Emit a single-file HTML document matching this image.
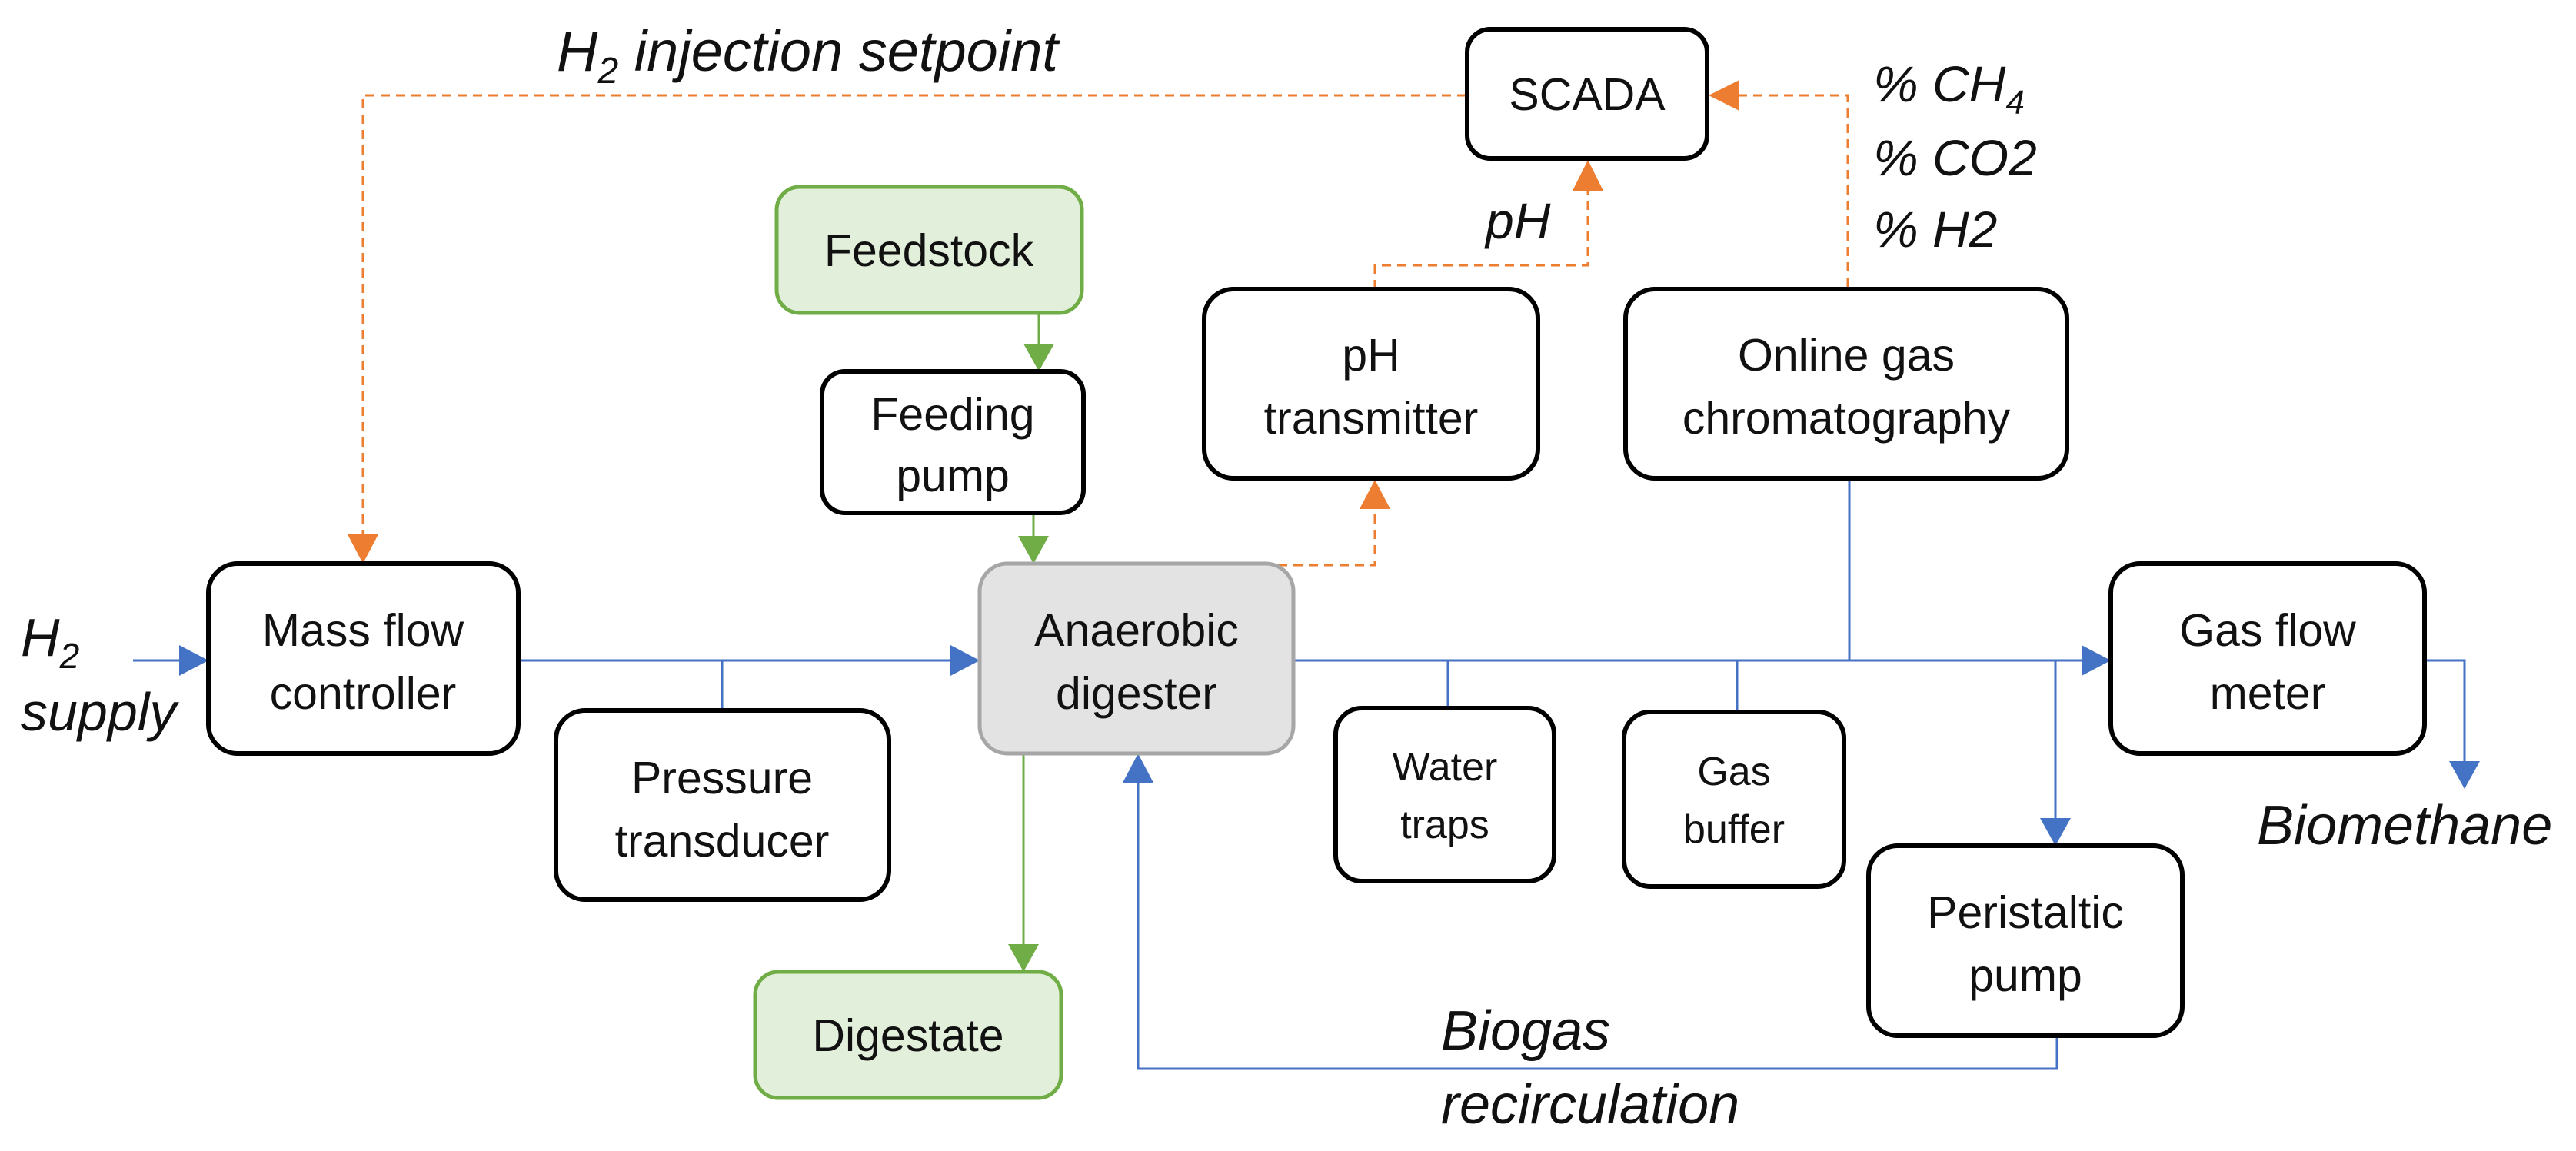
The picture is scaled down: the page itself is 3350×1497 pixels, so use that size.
<!DOCTYPE html>
<html><head><meta charset="utf-8"><style>
html,body{margin:0;padding:0;background:#fff}
svg{display:block}
text{font-family:"Liberation Sans",sans-serif;fill:#111}
.b{font-size:59px;text-anchor:middle}
.i{font-style:italic;font-size:72px}
</style></head><body>
<svg width="3350" height="1497" viewBox="0 0 3350 1497" xmlns="http://www.w3.org/2000/svg">
<style>
.bl{stroke:#4472c4;stroke-width:3;fill:none}
.gr{stroke:#70ad47;stroke-width:3;fill:none}
.or{stroke:#ed7d31;stroke-width:3;fill:none;stroke-dasharray:12,8}
.bx{fill:#fff;stroke:#000;stroke-width:6}
</style>
<g>
<path class="or" d="M1907,124 H472 V700"/>
<path d="M452,695 L492,695 L472,733 z" fill="#ed7d31"/>
<path class="or" d="M2403,373 V124 H2260"/>
<path d="M2222,124 L2262,104 L2262,144 z" fill="#ed7d31"/>
<path class="or" d="M1788,376 V345 H2065 V246"/>
<path d="M2065,208 L2045,248 L2085,248 z" fill="#ed7d31"/>
<path class="or" d="M1602,735 H1788 V660"/>
<path d="M1788,624 L1768,662 L1808,662 z" fill="#ed7d31"/>
<path class="gr" d="M1351,407 V450"/>
<path d="M1331,447 L1371,447 L1351,483 z" fill="#70ad47"/>
<path class="gr" d="M1344,667 V700"/>
<path d="M1324,697 L1364,697 L1344,733 z" fill="#70ad47"/>
<path class="gr" d="M1331,980 V1230"/>
<path d="M1311,1228 L1351,1228 L1331,1264 z" fill="#70ad47"/>
<path class="bl" d="M173,859 H240"/>
<path d="M233,839 L271,859 L233,879 z" fill="#4472c4"/>
<path class="bl" d="M674,859 H1240"/>
<path d="M1236,839 L1274,859 L1236,879 z" fill="#4472c4"/>
<path class="bl" d="M939,859 V924"/>
<path class="bl" d="M1682,859 H2710"/>
<path d="M2707,839 L2745,859 L2707,879 z" fill="#4472c4"/>
<path class="bl" d="M1883,859 V921 M2259,859 V926 M2405,622 V859"/>
<path class="bl" d="M2673,859 V1070"/>
<path d="M2653,1064 L2693,1064 L2673,1100 z" fill="#4472c4"/>
<path class="bl" d="M3153,859 H3205 V995"/>
<path d="M3185,990 L3225,990 L3205,1026 z" fill="#4472c4"/>
<path class="bl" d="M2675,1347 V1390 H1480 V1015"/>
<path d="M1480,980 L1460,1018 L1500,1018 z" fill="#4472c4"/>
</g>
<rect class="bx" x="271" y="733" width="403" height="247" rx="38"/>
<rect class="bx" x="723" y="924" width="433" height="246" rx="38"/>
<rect x="1010" y="243" width="397" height="164" rx="30" fill="#e2efda" stroke="#70ad47" stroke-width="5"/>
<rect class="bx" x="1069" y="483" width="340" height="184" rx="30"/>
<rect x="1274" y="733" width="408" height="247" rx="36" fill="#e3e3e3" stroke="#a6a6a6" stroke-width="5"/>
<rect x="982" y="1264" width="398" height="164" rx="30" fill="#e2efda" stroke="#70ad47" stroke-width="5"/>
<rect class="bx" x="1908" y="38" width="312" height="168" rx="30"/>
<rect class="bx" x="1566" y="376" width="434" height="246" rx="38"/>
<rect class="bx" x="2114" y="376" width="574" height="246" rx="38"/>
<rect class="bx" x="1737" y="921" width="284" height="225" rx="34"/>
<rect class="bx" x="2112" y="926" width="286" height="227" rx="34"/>
<rect class="bx" x="2430" y="1100" width="408" height="247" rx="38"/>
<rect class="bx" x="2745" y="733" width="408" height="247" rx="38"/>
<text class="b" x="472" y="840">Mass flow</text><text class="b" x="472" y="922">controller</text>
<text class="b" x="939" y="1032">Pressure</text><text class="b" x="939" y="1114">transducer</text>
<text class="b" x="1208" y="346">Feedstock</text>
<text class="b" x="1239" y="559">Feeding</text><text class="b" x="1239" y="639">pump</text>
<text class="b" x="1478" y="840">Anaerobic</text><text class="b" x="1478" y="922">digester</text>
<text class="b" x="1181" y="1367">Digestate</text>
<text class="b" x="2064" y="143">SCADA</text>
<text class="b" x="1783" y="482">pH</text><text class="b" x="1783" y="564">transmitter</text>
<text class="b" x="2401" y="482">Online gas</text><text class="b" x="2401" y="564">chromatography</text>
<text class="b" x="1879" y="1015" style="font-size:52px">Water</text><text class="b" x="1879" y="1090" style="font-size:52px">traps</text>
<text class="b" x="2255" y="1021" style="font-size:52px">Gas</text><text class="b" x="2255" y="1096" style="font-size:52px">buffer</text>
<text class="b" x="2634" y="1207">Peristaltic</text><text class="b" x="2634" y="1289">pump</text>
<text class="b" x="2949" y="840">Gas flow</text><text class="b" x="2949" y="922">meter</text>
<text class="i" x="724" y="92" style="font-size:74px">H<tspan font-size="48" dy="16">2</tspan><tspan dy="-16"> injection setpoint</tspan></text>
<text class="i" x="27" y="853" style="font-size:70px">H<tspan font-size="46" dy="16">2</tspan></text>
<text class="i" x="27" y="950" style="font-size:70px">supply</text>
<text class="i" x="1932" y="310" style="font-size:66px">pH</text>
<text class="i" x="2436" y="132" style="font-size:66px">% CH<tspan font-size="44" dy="16">4</tspan></text>
<text class="i" x="2436" y="228" style="font-size:66px">% CO2</text>
<text class="i" x="2436" y="321" style="font-size:66px">% H2</text>
<text class="i" x="2935" y="1098">Biomethane</text>
<text class="i" x="1874" y="1365">Biogas</text>
<text class="i" x="1874" y="1461">recirculation</text>
</svg>
</body></html>
